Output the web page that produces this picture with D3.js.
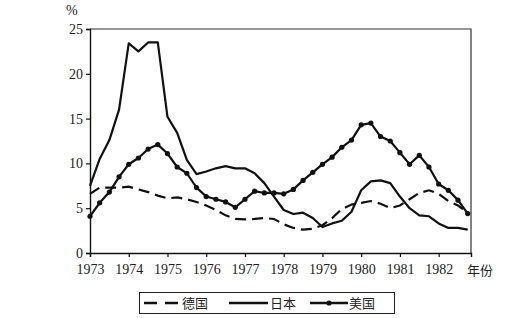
<!DOCTYPE html>
<html>
<head>
<meta charset="utf-8">
<script src="https://cdn.jsdelivr.net/npm/d3@7"></script>
<style>
  body { margin: 0; background: #fff; }
  svg { display: block; }
</style>
</head>
<body>
<svg width="520" height="318"></svg>
<script>
// quarterly values, 1973Q1 .. 1982Q4
var years = [1973, 1974, 1975, 1976, 1977, 1978, 1979, 1980, 1981, 1982];
var yTicks = [0, 5, 10, 15, 20, 25];

var germany = [6.6, 7.3, 7.3, 7.3, 7.4, 7.1, 6.8, 6.4, 6.1, 6.2,
  6.0, 5.7, 5.3, 4.8, 4.2, 3.8, 3.75, 3.8, 3.9, 3.8,
  3.2, 2.8, 2.6, 2.7, 3.1, 3.9, 4.9, 5.4, 5.6, 5.8,
  5.5, 5.0, 5.3, 6.0, 6.7, 7.0, 6.6, 5.8, 5.3, 4.5];
var japan = [7.5, 10.5, 12.6, 16.0, 23.4, 22.5, 23.5, 23.5, 15.2, 13.4,
  10.4, 8.8, 9.1, 9.45, 9.7, 9.45, 9.45, 8.9, 7.8, 6.3,
  4.8, 4.35, 4.5, 3.9, 2.9, 3.3, 3.6, 4.6, 7.0, 8.0,
  8.1, 7.8, 6.3, 5.0, 4.2, 4.1, 3.3, 2.8, 2.8, 2.6];
var usa = [4.1, 5.6, 6.8, 8.5, 9.9, 10.6, 11.6, 12.1, 11.1, 9.6,
  8.9, 7.3, 6.3, 6.0, 5.7, 5.1, 6.0, 6.9, 6.7, 6.7,
  6.6, 7.1, 8.1, 9.0, 9.9, 10.7, 11.8, 12.6, 14.3, 14.5,
  13.0, 12.5, 11.2, 9.9, 10.9, 9.6, 7.7, 7.0, 5.9, 4.4];

var serif = '"Liberation Serif", "DejaVu Serif", serif';
var cjk = '"Noto Sans CJK SC", sans-serif';

var svg = d3.select('svg');

var x = d3.scaleLinear().domain([1973, 1982.835]).range([90, 471]);
var y = d3.scaleLinear().domain([0, 25]).range([253, 29]);

var line = d3.line()
  .x(function(d, i) { return x(1973 + i / 4); })
  .y(function(d) { return y(d); });

// frame (top + right)
svg.append('path')
  .attr('d', 'M' + x.range()[0] + ',' + y(25) + 'H' + x.range()[1] + 'V' + y(0))
  .attr('fill', 'none')
  .attr('stroke', '#333')
  .attr('stroke-width', 1.2);

// axes
var xAxis = svg.append('g')
  .attr('transform', 'translate(0,' + y(0) + ')')
  .call(d3.axisBottom(x).tickValues(years).tickFormat(d3.format('d')).tickSize(4).tickPadding(7));
var yAxis = svg.append('g')
  .attr('transform', 'translate(' + x(1973) + ',0)')
  .call(d3.axisLeft(y).tickValues(yTicks).tickSize(4).tickPadding(3));

[xAxis, yAxis].forEach(function(a) {
  a.attr('font-family', serif).attr('font-size', 14);
  a.select('.domain').attr('stroke', '#111').attr('stroke-width', 1.4);
  a.selectAll('.tick line').attr('stroke', '#111').attr('stroke-width', 1.2);
  a.selectAll('.tick text').attr('fill', '#222');
});

svg.append('text').attr('x', 66).attr('y', 15)
  .attr('font-family', serif).attr('font-size', 14).attr('fill', '#222').text('%');
svg.append('text').attr('x', 467).attr('y', 275)
  .attr('font-family', cjk).attr('font-size', 13).attr('fill', '#222').text('年份');

// series
svg.append('path').datum(germany)
  .attr('d', line).attr('fill', 'none')
  .attr('stroke', '#111').attr('stroke-width', 2.2)
  .attr('stroke-dasharray', '11,6');

svg.append('path').datum(japan)
  .attr('d', line).attr('fill', 'none')
  .attr('stroke', '#111').attr('stroke-width', 2.2)
  .attr('stroke-linejoin', 'round');

svg.append('path').datum(usa)
  .attr('d', line).attr('fill', 'none')
  .attr('stroke', '#111').attr('stroke-width', 2.2)
  .attr('stroke-linejoin', 'round');

svg.append('g').selectAll('circle').data(usa).enter().append('circle')
  .attr('cx', function(d, i) { return x(1973 + i / 4); })
  .attr('cy', function(d) { return y(d); })
  .attr('r', 2.6)
  .attr('fill', '#111');

// legend
var lg = svg.append('g').attr('font-family', cjk).attr('font-size', 13).attr('fill', '#222');
lg.append('rect').attr('x', 139.5).attr('y', 292.5).attr('width', 255).attr('height', 21)
  .attr('fill', '#fff').attr('stroke', '#222').attr('stroke-width', 1);
var ly = 303;
lg.append('line').attr('x1', 144).attr('x2', 179).attr('y1', ly).attr('y2', ly)
  .attr('stroke', '#111').attr('stroke-width', 2.6).attr('stroke-dasharray', '13,8');
lg.append('text').attr('x', 182).attr('y', ly + 5).text('德国');
lg.append('line').attr('x1', 229).attr('x2', 268).attr('y1', ly).attr('y2', ly)
  .attr('stroke', '#111').attr('stroke-width', 2.4);
lg.append('text').attr('x', 270).attr('y', ly + 5).text('日本');
lg.append('line').attr('x1', 310).attr('x2', 348).attr('y1', ly).attr('y2', ly)
  .attr('stroke', '#111').attr('stroke-width', 2.4);
lg.append('circle').attr('cx', 329).attr('cy', ly).attr('r', 2.6).attr('fill', '#111');
lg.append('text').attr('x', 349).attr('y', ly + 5).text('美国');
</script>
</body>
</html>
